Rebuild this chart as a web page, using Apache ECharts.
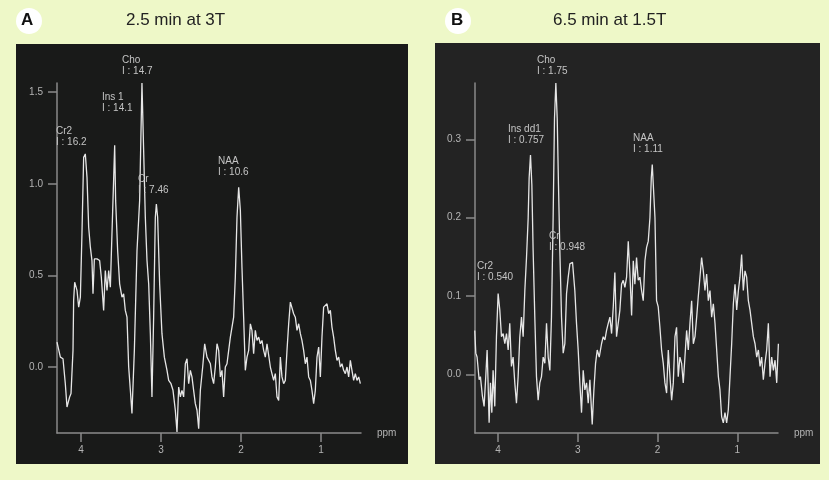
<!DOCTYPE html>
<html>
<head>
<meta charset="utf-8">
<script src="https://cdn.jsdelivr.net/npm/echarts@6/dist/echarts.min.js"></script>
<style>
  html, body { margin: 0; padding: 0; background: #eef8c8; }
  #graph { width: 829px; height: 480px; }
</style>
</head>
<body>
<div id="graph"></div>
<script>
// spectrum A : 2.5 min at 3T  -> [ppm, intensity]
var spectrumA = [
  [4.300,0.136],[4.258,0.054],[4.225,0.045],[4.196,-0.091],[4.175,-0.218],[4.142,-0.163],[4.125,-0.145],
  [4.100,0.091],[4.092,0.363],[4.079,0.463],[4.050,0.418],[4.029,0.327],[4.008,0.381],[3.988,0.727],
  [3.967,1.144],[3.946,1.163],[3.925,1.035],[3.904,0.763],[3.883,0.654],[3.863,0.581],[3.850,0.400],
  [3.833,0.590],[3.800,0.590],[3.767,0.581],[3.746,0.490],[3.717,0.309],[3.696,0.527],[3.675,0.418],
  [3.654,0.527],[3.633,0.436],[3.613,0.727],[3.579,1.21],[3.567,0.908],[3.542,0.636],[3.517,0.454],
  [3.488,0.381],[3.467,0.400],[3.446,0.309],[3.425,0.272],[3.404,0],[3.383,-0.127],[3.363,-0.254],
  [3.333,0.091],[3.300,0.636],[3.267,0.908],[3.238,1.55],[3.217,1.181],[3.196,0.817],[3.175,0.581],
  [3.154,0.454],[3.133,0.182],[3.113,-0.163],[3.092,0.272],[3.071,0.817],[3.058,0.890],[3.042,0.817],
  [3.017,0.454],[2.988,0.182],[2.958,0.054],[2.925,-0.018],[2.904,-0.073],[2.875,-0.091],[2.850,-0.127],
  [2.821,-0.236],[2.800,-0.354],[2.779,-0.109],[2.758,-0.163],[2.738,-0.127],[2.717,-0.163],[2.696,0.018],
  [2.675,0.045],[2.654,-0.091],[2.633,-0.018],[2.613,-0.054],[2.592,-0.127],[2.571,-0.200],[2.550,-0.236],
  [2.529,-0.336],[2.508,-0.127],[2.479,0],[2.454,0.127],[2.425,0.054],[2.404,0.054],[2.383,0.018],
  [2.363,-0.054],[2.342,-0.091],[2.321,0],[2.300,0.127],[2.279,0.091],[2.258,-0.054],[2.238,-0.018],
  [2.217,-0.163],[2.196,0],[2.175,0.018],[2.154,0.091],[2.133,0.163],[2.113,0.163],[2.092,0.272],
  [2.071,0.490],[2.050,0.817],[2.029,0.981],[2.008,0.854],[1.988,0.545],[1.967,0.272],[1.946,-0.018],
  [1.925,0.054],[1.904,0.091],[1.883,0.236],[1.863,0.200],[1.842,0.073],[1.821,0.200],[1.800,0.145],
  [1.779,0.163],[1.758,0.127],[1.738,0.145],[1.717,0.091],[1.696,0.054],[1.675,0.127],[1.654,0.127],
  [1.633,0],[1.613,-0.036],[1.592,-0.073],[1.571,-0.036],[1.550,-0.163],[1.529,-0.182],[1.508,0.054],
  [1.488,-0.054],[1.467,-0.091],[1.446,-0.073],[1.425,0.091],[1.404,0.236],[1.383,0.354],[1.363,0.345],
  [1.342,0.291],[1.321,0.272],[1.300,0.200],[1.279,0.236],[1.258,0.182],[1.238,0.145],[1.217,0.091],
  [1.196,0.018],[1.175,0.054],[1.154,-0.054],[1.133,-0.073],[1.113,-0.127],[1.092,-0.200],[1.071,-0.127],
  [1.050,0.054],[1.029,0.109],[1.008,-0.054],[0.988,0.163],[0.967,0.327],[0.946,0.327],[0.925,0.345],
  [0.904,0.291],[0.883,0.309],[0.863,0.218],[0.842,0.163],[0.821,0.091],[0.800,0.036],[0.779,0.054],
  [0.758,0],[0.738,0.018],[0.717,-0.018],[0.696,-0.036],[0.675,0],[0.654,-0.054],[0.633,0.036],
  [0.613,-0.018],[0.592,-0.073],[0.571,-0.036],[0.550,-0.073],[0.529,-0.054],[0.508,-0.091]
];

// spectrum B : 6.5 min at 1.5T
var spectrumB = [
  [4.293,0.056],[4.280,0.027],[4.264,0.022],[4.238,-0.007],[4.222,-0.003],[4.197,-0.028],[4.176,-0.041],
  [4.155,-0.003],[4.138,0.031],[4.126,-0.011],[4.113,-0.062],[4.096,-0.011],[4.079,-0.049],[4.063,0.005],
  [4.042,-0.041],[4.021,0.048],[4.000,0.103],[3.979,0.082],[3.958,0.048],[3.937,0.052],[3.916,0.039],
  [3.895,0.052],[3.874,0.031],[3.854,0.065],[3.833,0.010],[3.812,0.022],[3.791,-0.011],[3.770,-0.037],
  [3.749,-0.003],[3.728,0.048],[3.707,0.073],[3.686,0.048],[3.665,0.107],[3.644,0.149],[3.623,0.200],
  [3.611,0.251],[3.594,0.280],[3.577,0.242],[3.561,0.158],[3.540,0.073],[3.519,-0.003],[3.498,-0.033],
  [3.477,-0.011],[3.456,-0.003],[3.435,0.022],[3.414,0.014],[3.393,0.065],[3.372,0.022],[3.351,0.005],
  [3.331,0.073],[3.310,0.200],[3.293,0.327],[3.276,0.372],[3.259,0.327],[3.243,0.242],[3.226,0.158],
  [3.205,0.073],[3.184,0.027],[3.163,0.039],[3.142,0.103],[3.121,0.124],[3.100,0.141],[3.067,0.143],
  [3.038,0.107],[3.017,0.065],[2.996,0.031],[2.975,-0.011],[2.954,-0.049],[2.933,0.005],[2.912,-0.020],
  [2.891,-0.011],[2.870,-0.037],[2.849,-0.007],[2.820,-0.064],[2.799,-0.020],[2.778,0.014],[2.757,0.031],
  [2.732,0.022],[2.703,0.039],[2.682,0.048],[2.661,0.044],[2.640,0.056],[2.619,0.065],[2.598,0.073],
  [2.577,0.052],[2.556,0.086],[2.536,0.130],[2.515,0.048],[2.494,0.065],[2.473,0.082],[2.452,0.115],
  [2.431,0.120],[2.410,0.111],[2.389,0.124],[2.368,0.170],[2.347,0.128],[2.326,0.075],[2.305,0.145],
  [2.285,0.115],[2.264,0.149],[2.243,0.120],[2.222,0.124],[2.201,0.107],[2.180,0.094],[2.159,0.145],
  [2.138,0.162],[2.117,0.170],[2.096,0.200],[2.079,0.251],[2.067,0.268],[2.054,0.242],[2.033,0.200],
  [2.013,0.094],[1.992,0.086],[1.971,0.060],[1.950,0.031],[1.929,0.014],[1.908,-0.011],[1.887,-0.024],
  [1.866,0.031],[1.845,-0.003],[1.824,-0.033],[1.803,-0.011],[1.782,0.048],[1.762,0.060],[1.741,-0.003],
  [1.720,0.022],[1.699,0.014],[1.678,-0.011],[1.657,0.022],[1.636,0.056],[1.615,0.031],[1.594,0.065],
  [1.573,0.094],[1.552,0.039],[1.531,0.048],[1.510,0.073],[1.490,0.099],[1.469,0.124],[1.448,0.149],
  [1.427,0.132],[1.406,0.107],[1.385,0.128],[1.364,0.094],[1.343,0.107],[1.322,0.073],[1.301,0.090],
  [1.280,0.065],[1.259,0.031],[1.238,-0.003],[1.218,-0.020],[1.197,-0.054],[1.176,-0.062],[1.155,-0.049],
  [1.134,-0.062],[1.113,-0.045],[1.092,-0.003],[1.071,0.039],[1.050,0.090],[1.029,0.115],[1.008,0.082],
  [0.987,0.107],[0.967,0.124],[0.946,0.153],[0.925,0.107],[0.904,0.132],[0.883,0.124],[0.862,0.094],
  [0.841,0.082],[0.820,0.065],[0.799,0.048],[0.778,0.039],[0.757,0.022],[0.736,0.031],[0.715,0.010],
  [0.695,0.022],[0.674,-0.007],[0.653,0.014],[0.632,0.031],[0.611,0.065],[0.590,-0.003],[0.569,0.022],
  [0.548,0.005],[0.527,0.018],[0.506,-0.011],[0.485,0.039]
];

var ppmTicks = [4, 3, 2, 1];
var yTicksA = [0, 0.5, 1.0, 1.5];
var yTicksB = [0, 0.1, 0.2, 0.3];
var titles = ['2.5 min at 3T', '6.5 min at 1.5T'];
var peaksA = [['Cho', 'I : 14.7'], ['Ins 1', 'I : 14.1'], ['Cr2', 'I : 16.2'], ['Cr', 'I : 7.46'], ['NAA', 'I : 10.6']];
var peaksB = [['Cho', 'I : 1.75'], ['Ins dd1', 'I : 0.757'], ['Cr', 'I : 0.948'], ['NAA', 'I : 1.11'], ['Cr2', 'I : 0.540']];

var dom = document.getElementById('graph');
var myChart = echarts.init(dom);

var axisGrey = '#8a8a8a';
var textGrey = '#b4b4b4';

// ppm axis runs right-to-left, so its "start" end is on the right
function xAxisFor(idx, min, max) {
    return {
        gridIndex: idx, type: 'value', min: min, max: max, inverse: true,
        name: 'ppm', nameLocation: 'start', nameGap: 16,
        nameTextStyle: { color: textGrey, fontSize: 10, fontFamily: 'Liberation Sans', verticalAlign: 'middle' },
        axisLine: { onZero: false, lineStyle: { color: axisGrey, width: 1.5 } },
        axisTick: { customValues: ppmTicks, length: 9, lineStyle: { color: axisGrey, width: 1.5 } },
        axisLabel: { customValues: ppmTicks, color: textGrey, fontSize: 10, margin: 12,
            fontFamily: 'Liberation Sans', formatter: function (v) { return String(Math.round(v)); } },
        splitLine: { show: false }
    };
}
function yAxisFor(idx, min, max, ticks) {
    return {
        gridIndex: idx, type: 'value', min: min, max: max,
        axisLine: { show: true, onZero: false, lineStyle: { color: axisGrey, width: 1.5 } },
        axisTick: { show: true, customValues: ticks, length: 9, lineStyle: { color: axisGrey, width: 1.5 } },
        axisLabel: { customValues: ticks, color: textGrey, fontSize: 10, margin: 14,
            fontFamily: 'Liberation Sans', formatter: function (v) { return v.toFixed(1); } },
        splitLine: { show: false }
    };
}

function peakText(x, y, lines) {
    return {
        type: 'text', left: x, top: y, z: 10,
        style: { text: lines.join('\n'), fill: '#c4c4c4', font: '10px "Liberation Sans"', lineHeight: 11 }
    };
}

var labelPosA = [[122, 55], [102, 92], [56, 126], [138, 174], [218, 156]];
var labelPosB = [[537, 55], [508, 124], [549, 231], [633, 133], [477, 261]];

var graphics = [
    { type: 'rect', shape: { x: 16, y: 44, width: 392, height: 420 }, style: { fill: '#191a19' }, z: -10 },
    { type: 'rect', shape: { x: 435, y: 43, width: 385, height: 421 }, style: { fill: '#232323' }, z: -10 },
    { type: 'circle', shape: { cx: 29, cy: 21, r: 13 }, style: { fill: '#ffffff' } },
    { type: 'text', left: 21, top: 12, style: { text: 'A', fill: '#111', font: 'bold 17px "Liberation Sans"' } },
    { type: 'circle', shape: { cx: 458, cy: 21, r: 13 }, style: { fill: '#ffffff' } },
    { type: 'text', left: 451, top: 12, style: { text: 'B', fill: '#111', font: 'bold 17px "Liberation Sans"' } },
    { type: 'text', left: 126, top: 12, style: { text: titles[0], fill: '#222', font: '17px "Liberation Sans"' } },
    { type: 'text', left: 553, top: 12, style: { text: titles[1], fill: '#222', font: '17px "Liberation Sans"' } }
];
peaksA.forEach(function (p, i) { graphics.push(peakText(labelPosA[i][0], labelPosA[i][1], p)); });
peaksB.forEach(function (p, i) { graphics.push(peakText(labelPosB[i][0], labelPosB[i][1], p)); });

var lineStyle = { color: '#e6e6e6', width: 1.3 };

option = {
    backgroundColor: '#eef8c8',
    animation: false,
    grid: [
        { left: 57, top: 83, width: 304, height: 350 },
        { left: 475, top: 83, width: 303, height: 350 }
    ],
    xAxis: [xAxisFor(0, 0.5, 4.3), xAxisFor(1, 0.49, 4.29)],
    yAxis: [yAxisFor(0, -0.36, 1.55, yTicksA), yAxisFor(1, -0.075, 0.372, yTicksB)],
    series: [
        { type: 'line', xAxisIndex: 0, yAxisIndex: 0, data: spectrumA, showSymbol: false, lineStyle: lineStyle, clip: false },
        { type: 'line', xAxisIndex: 1, yAxisIndex: 1, data: spectrumB, showSymbol: false, lineStyle: lineStyle, clip: false }
    ],
    graphic: graphics
};

if (option && typeof option === 'object') {
    myChart.setOption(option, true);
}
</script>
</body>
</html>
